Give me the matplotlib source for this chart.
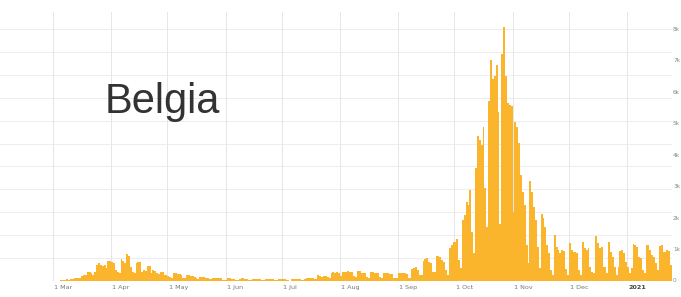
import numpy as np
import pandas as pd
import matplotlib
matplotlib.use("Agg")
import matplotlib.pyplot as plt
import matplotlib.transforms as mtransforms

# daily new cases, Belgium, 1 Feb 2020 - 24 Jan 2021
feb = [0, 0, 0, 1, 0, 0, 0, 0, 0, 0, 0, 0, 0, 0, 0, 0, 0, 0, 0, 0,
       0, 0, 0, 0, 0, 0, 0, 0, 0]
mar = [2, 5, 10, 15, 30, 40, 45, 50, 45, 60, 75, 80, 100, 110, 95, 160,
       190, 200, 280, 300, 250, 190, 300, 520, 560, 510, 480, 500, 420, 650, 640]
apr = [615, 560, 350, 300, 245, 690, 650, 580, 850, 800, 455, 300, 245, 580,
       615, 600, 300, 350, 330, 480, 470, 245, 350, 330, 245, 230, 300, 280, 190, 180]
may = [150, 120, 90, 250, 240, 230, 210, 190, 110, 80, 200, 180, 170, 150, 140,
       80, 60, 140, 130, 120, 110, 100, 60, 50, 110, 100, 95, 90, 80, 45, 35]
jun = [40, 80, 90, 75, 70, 40, 30, 60, 85, 80, 70, 65, 35, 25, 55, 70, 60, 60,
       55, 30, 20, 50, 60, 55, 60, 50, 30, 20, 55, 60]
jul = [60, 50, 45, 20, 15, 60, 55, 60, 55, 50, 30, 25, 70, 85, 90, 85, 90, 60,
       50, 190, 160, 140, 160, 170, 120, 100, 265, 270, 260, 280, 250]
aug = [150, 280, 300, 300, 310, 300, 290, 150, 120, 330, 320, 260, 250, 240, 120,
       100, 280, 270, 260, 250, 240, 130, 110, 250, 240, 240, 230, 220, 110, 90, 85]
sep = [245, 245, 255, 265, 230, 85, 90, 370, 400, 455, 350, 200, 180, 650, 700,
       720, 615, 560, 300, 280, 795, 780, 750, 670, 600, 350, 190, 1040, 1150, 1250]
oct_ = [1250, 1340, 670, 400, 1940, 2100, 2520, 2420, 2890, 1570, 880, 3580, 4590,
        4480, 4320, 4900, 2950, 1700, 5700, 7030, 6400, 6500, 6870, 5380, 1800,
        7200, 8050, 6500, 5650, 5600, 5550]
nov = [2200, 5050, 4900, 4380, 3370, 2840, 2420, 1150, 560, 3160, 2840, 2360, 1940,
       1090, 400, 2130, 1990, 1730, 1150, 880, 350, 190, 1460, 1090, 1000, 880,
       1000, 950, 380, 200]
dec = [1220, 990, 930, 930, 880, 350, 190, 1250, 1040, 1000, 1040, 455, 300, 245,
       1430, 1200, 1040, 1070, 455, 455, 265, 1250, 930, 775, 455, 190, 455, 950,
       1000, 880, 615]
jan = [455, 245, 400, 1180, 1150, 1070, 775, 720, 350, 245, 1140, 1150, 990, 830,
       775, 560, 350, 1110, 1150, 930, 930, 990, 950, 520]

cases = feb + mar + apr + may + jun + jul + aug + sep + oct_ + nov + dec + jan
dates = pd.date_range("2020-02-01", periods=len(cases), freq="D")

month_labels = ["1 Mar", "1 Apr", "1 May", "1 Jun", "1 Jul", "1 Aug",
                "1 Sep", "1 Oct", "1 Nov", "1 Dec", "2021"]
month_starts = ["2020-03-01", "2020-04-01", "2020-05-01", "2020-06-01",
                "2020-07-01", "2020-08-01", "2020-09-01", "2020-10-01",
                "2020-11-01", "2020-12-01", "2021-01-01"]
y_labels = ["0", "1k", "2k", "3k", "4k", "5k", "6k", "7k", "8k"]
y_values = [0, 1000, 2000, 3000, 4000, 5000, 6000, 7000, 8000]

days = np.array([(d - dates[0]).days for d in dates])
tick_days = [(pd.Timestamp(m) - dates[0]).days for m in month_starts]

W, H = 681, 297
fig = plt.figure(figsize=(W / 100, H / 100), dpi=100)
fig.patch.set_facecolor("white")
ax = fig.add_axes([0, 16 / H, 672 / W, 269 / H])

ax.bar(days, cases, width=1.0, align="edge", color="#fbb52c", linewidth=0, zorder=2)

ax.set_xlim(0.75, 359)
ax.set_ylim(0, 8540)

# grid
for k in range(1, 12):
    ax.axhline(k * 8000 / 11, color="#ededed", lw=0.7, zorder=0)
for t in tick_days:
    ax.axvline(t, color="#e6e6e6", lw=0.7, zorder=0)

for s in ax.spines.values():
    s.set_visible(False)
ax.set_xticks([])
ax.set_yticks([])

# x labels
trans_x = mtransforms.blended_transform_factory(ax.transData, ax.transAxes)
for t, lab in zip(tick_days, month_labels):
    bold = lab == "2021"
    ax.text(t + 0.6, -0.026, lab, transform=trans_x, ha="left", va="center",
            fontsize=4.6, color="#444444" if bold else "#777777",
            fontweight="bold" if bold else "normal", clip_on=False)

# y labels on the right
trans_y = mtransforms.blended_transform_factory(ax.transAxes, ax.transData)
for v, lab in zip(y_values, y_labels):
    ax.text(1.0015, v, lab, transform=trans_y, ha="left", va="center",
            fontsize=4.2, color="#888888", clip_on=False)

fig.text(105 / W, 1 - 113 / H, "Belgia", fontsize=30, color="#333333",
         family="Liberation Sans", ha="left", va="baseline")

fig.savefig("out.png", dpi=100, facecolor="white")
